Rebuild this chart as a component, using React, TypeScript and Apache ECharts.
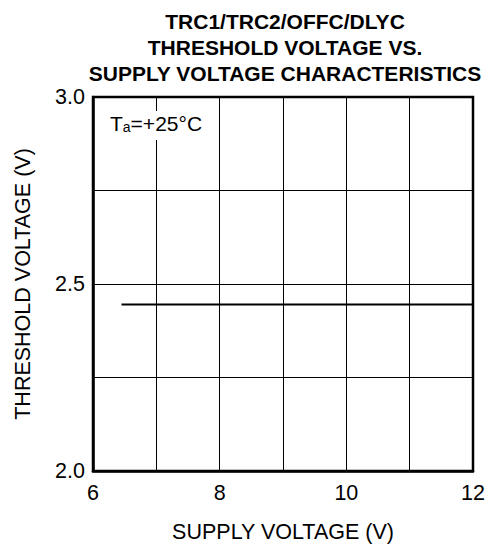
import React, { useEffect, useRef } from "react";
import * as echarts from "echarts";

const titleLines = ["TRC1/TRC2/OFFC/DLYC", "THRESHOLD VOLTAGE VS.", "SUPPLY VOLTAGE CHARACTERISTICS"];
const xName = "SUPPLY VOLTAGE (V)";
const yName = "THRESHOLD VOLTAGE (V)";
const xLabels = [6, 8, 10, 12];
const yLabels = [2.0, 2.5, 3.0];
const supplyVoltage = [6.45, 12];
const thresholdVoltage = [2.445, 2.445];

const FONT = "'Liberation Sans', Arial, Helvetica, sans-serif";

export default function App() {
  const ref = useRef<HTMLDivElement>(null);
  useEffect(() => {
    if (!ref.current) return;
    const chart = echarts.init(ref.current, null, { renderer: "svg" });
    const data = supplyVoltage.map((x, i) => [x, thresholdVoltage[i]]);
    chart.setOption({
      animation: false,
      backgroundColor: "#ffffff",
      title: {
        text: titleLines.join("\n"),
        left: 280,
        top: 3,
        textAlign: "center",
        textStyle: { fontFamily: FONT, fontWeight: "bold", fontSize: 21, lineHeight: 26, color: "#000" },
      },
      grid: {
        left: 93,
        right: 15,
        top: 97,
        bottom: 74,
        show: true,
        borderColor: "#000",
        borderWidth: 2.5,
      },
      xAxis: {
        type: "value",
        min: 6,
        max: 12,
        interval: 1,
        name: xName,
        nameLocation: "middle",
        nameGap: 50,
        nameTextStyle: { fontFamily: FONT, fontSize: 21.5, color: "#000" },
        axisLine: { show: true, lineStyle: { color: "#000", width: 2.5 } },
        axisTick: { show: false },
        axisLabel: {
          margin: 11,
          fontFamily: FONT,
          fontSize: 21.5,
          color: "#000",
          formatter: (v: number) => (xLabels.some((l) => Math.abs(l - v) < 1e-6) ? String(v) : ""),
        },
        splitLine: { show: true, lineStyle: { color: "#000", width: 1 } },
      },
      yAxis: {
        type: "value",
        min: 2.0,
        max: 3.0,
        interval: 0.25,
        name: yName,
        nameLocation: "middle",
        nameGap: 59,
        nameTextStyle: { fontFamily: FONT, fontSize: 21.5, color: "#000" },
        axisLine: { show: true, lineStyle: { color: "#000", width: 2.5 } },
        axisTick: { show: false },
        axisLabel: {
          margin: 8,
          fontFamily: FONT,
          fontSize: 21.5,
          color: "#000",
          formatter: (v: number) => {
            const m = yLabels.find((l) => Math.abs(l - v) < 1e-6);
            return m === undefined ? "" : m.toFixed(1);
          },
        },
        splitLine: { show: true, lineStyle: { color: "#000", width: 1 } },
      },
      graphic: [
        {
          type: "rect",
          left: 106,
          top: 111,
          shape: { width: 100, height: 29 },
          style: { fill: "#fff" },
          z: 10,
        },
        {
          type: "text",
          left: 110,
          top: 113,
          z: 11,
          style: {
            text: "{t|T}{s|a}{t|=+25°C}",
            rich: {
              t: { fontFamily: FONT, fontSize: 21, fill: "#000", verticalAlign: "bottom", lineHeight: 22 },
              s: { fontFamily: FONT, fontSize: 14, fill: "#000", verticalAlign: "bottom", lineHeight: 20 },
            },
          },
        },
      ],
      series: [
        {
          type: "line",
          data,
          showSymbol: false,
          symbol: "none",
          lineStyle: { color: "#000", width: 2 },
        },
      ],
    });
    return () => chart.dispose();
  }, []);
  return (
    <div
      ref={ref}
      style={{ position: "fixed", left: 0, top: 0, width: 488, height: 548, background: "#fff" }}
    />
  );
}
